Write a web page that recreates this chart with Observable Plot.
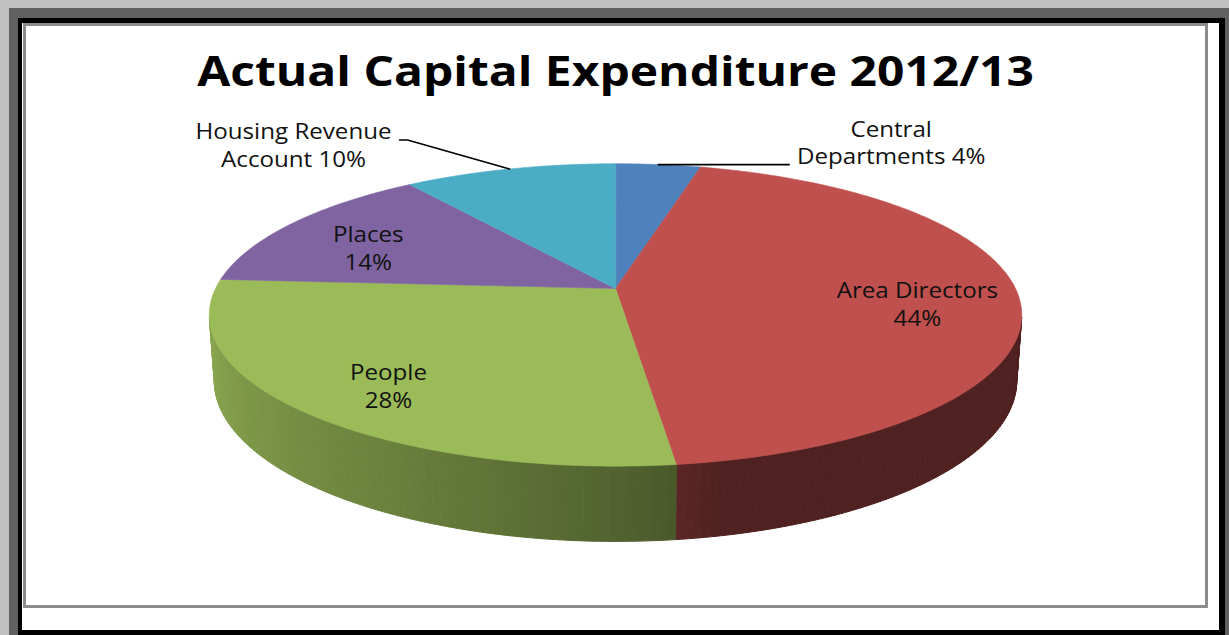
<!DOCTYPE html>
<html>
<head>
<meta charset="utf-8">
<script src="https://cdn.jsdelivr.net/npm/d3@7"></script>
<script src="https://cdn.jsdelivr.net/npm/@observablehq/plot@0.6"></script>
<style>
  html, body { margin: 0; padding: 0; }
  body { width: 1229px; height: 635px; overflow: hidden; position: relative; background: #c0c0c0; font-family: "Open Sans", sans-serif; }
  .abs { position: absolute; box-sizing: border-box; }
  #shadow { left: 9px; top: 8px; right: 0; bottom: 0; background: #606060; }
  #blackbox { left: 18px; top: 18px; width: 1207px; height: 617px; background: #000; }
  #white { left: 22px; top: 23px; width: 1197px; height: 607px; background: #fff; }
  #frame { left: 23px; top: 23px; width: 1185px; height: 585px; border: 3px solid #8c8c8c; background: #fff; }
  #title { left: 26px; top: 50px; width: 1179px; text-align: center; font-size: 41px; line-height: 41px; font-weight: 700; color: #000; }
  #title span { display: inline-block; transform: scaleX(1.17); }
  #chart { left: 26px; top: 100px; }
</style>
</head>
<body>
<div id="shadow" class="abs"></div>
<div id="blackbox" class="abs"></div>
<div id="white" class="abs"></div>
<div id="frame" class="abs"></div>
<div id="title" class="abs"><span>Actual Capital Expenditure 2012/13</span></div>
<div id="chart" class="abs"></div>
<script>
// ---- data ----
const categories = ["Central Departments", "Area Directors", "People", "Places", "Housing Revenue Account"];
const shares = [4, 44, 28, 14, 10];
const colors = ["#4f81bd", "#c0504d", "#9bbb59", "#8064a2", "#4bacc6"];
const labelTexts = ["Central\nDepartments 4%", "Area Directors\n44%", "People\n28%", "Places\n14%", "Housing Revenue\nAccount 10%"];

// ---- 3D pie projection ----
const W = 1179, H = 500;
const cam = {cx: 589, cy: 188, F: 2127, D: 5.318, tilt: 21.5 * Math.PI / 180, T: 0.175};
const sT = Math.sin(cam.tilt), cT = Math.cos(cam.tilt);
function proj(phi, r, Y) {
  const X = r * Math.sin(phi), Z = -r * Math.cos(phi);
  const yc = Y * cT - Z * sT;
  const depth = cam.D - Y * sT - Z * cT;
  return [cam.cx + cam.F * X / depth, cam.cy - cam.F * yc / depth];
}
const total = d3.sum(shares);
let acc = 0;
const slices = categories.map((name, i) => {
  const a0 = acc / total * 2 * Math.PI;
  acc += shares[i];
  const a1 = acc / total * 2 * Math.PI;
  return {name, share: shares[i], color: colors[i], label: labelTexts[i], a0, a1, mid: (a0 + a1) / 2};
});

function shade(color, phi) {
  const deg = phi * 180 / Math.PI;
  const t = Math.max(0, Math.min(1, (deg - 168) / 90));
  const f = 0.41 + 0.48 * Math.pow(t, 0.7);
  const c = d3.rgb(color);
  return d3.rgb(c.r * f, c.g * f, c.b * f).formatHex();
}

// top face polygons
const topRows = [];
slices.forEach((s, i) => {
  const [ax, ay] = proj(0, 0, 0);
  topRows.push({id: "t" + i, color: s.color, x: ax, y: ay});
  const n = Math.max(2, Math.ceil((s.a1 - s.a0) / (0.5 * Math.PI / 180)));
  for (let k = 0; k <= n; k++) {
    const p = s.a0 + (s.a1 - s.a0) * k / n;
    const [x, y] = proj(p, 1, 0);
    topRows.push({id: "t" + i, color: s.color, x, y});
  }
});

// side quads (front facing only)
const sideRows = [];
const limit = 1 / (cam.D * cT);
let q = 0;
slices.forEach((s) => {
  const n = Math.max(1, Math.ceil((s.a1 - s.a0) / (1 * Math.PI / 180)));
  for (let k = 0; k < n; k++) {
    const p0 = s.a0 + (s.a1 - s.a0) * k / n;
    const p1 = s.a0 + (s.a1 - s.a0) * (k + 1) / n;
    if (-Math.cos(p0) < limit && -Math.cos(p1) < limit) continue;
    const col = shade(s.color, (p0 + p1) / 2);
    const pts = [proj(p0, 1, 0), proj(p1, 1, 0), proj(p1, 1, -cam.T), proj(p0, 1, -cam.T)];
    pts.forEach(([x, y]) => sideRows.push({id: "q" + q, color: col, x, y}));
    q++;
  }
});

// labels and leader lines
const labelRows = [];
const leaderRows = [];
slices.forEach((s, i) => {
  if (s.share >= 12) {
    const [x, y] = proj(s.mid, 0.75, 0);
    labelRows.push({text: s.label, x, y: y + 8});
  } else {
    const [x0, y0] = proj(s.mid, 1, 0);
    if (Math.sin(s.mid) > 0) {
      const pts = [[x0, y0], [x0 + 131, y0]];
      pts.forEach(([x, y]) => leaderRows.push({id: "l" + i, x, y}));
      labelRows.push({text: s.label, x: x0 + 131 + 102, y: y0 - 23});
    } else {
      const pts = [[x0, y0], [x0 - 102, y0 - 29], [x0 - 110, y0 - 29]];
      pts.forEach(([x, y]) => leaderRows.push({id: "l" + i, x, y}));
      labelRows.push({text: s.label, x: x0 - 110 - 106, y: y0 - 29 + 4});
    }
  }
});

const chart = Plot.plot({
  width: W, height: H, margin: 0,
  x: {domain: [0, W], range: [0, W], axis: null},
  y: {domain: [0, H], range: [0, H], axis: null},
  color: {type: "identity"},
  style: {background: "transparent", overflow: "visible"},
  marks: [
    Plot.line(sideRows, {x: "x", y: "y", z: "id", fill: "color", stroke: "color", strokeWidth: 1, curve: "linear-closed"}),
    Plot.line(topRows, {x: "x", y: "y", z: "id", fill: "color", stroke: "color", strokeWidth: 0.6, curve: "linear-closed"}),
    Plot.line(leaderRows, {x: "x", y: "y", z: "id", stroke: "#000", strokeWidth: 1.6}),
    Plot.text(labelRows, {x: "x", y: "y", text: "text", fontSize: 21, fontFamily: "Open Sans", lineHeight: 1.33, fill: "#111", textAnchor: "middle"})
  ]
});
chart.querySelectorAll("text").forEach(t => {
  const tr = t.getAttribute("transform");
  if (tr && tr.includes("translate")) {
    t.setAttribute("transform", tr + " scale(1.15,1)");
  } else {
    const x = +(t.getAttribute("x") || 0), y = +(t.getAttribute("y") || 0);
    t.setAttribute("transform", `translate(${x},${y}) scale(1.15,1) translate(${-x},${-y})`);
  }
});
document.getElementById("chart").appendChild(chart);
</script>
</body>
</html>
